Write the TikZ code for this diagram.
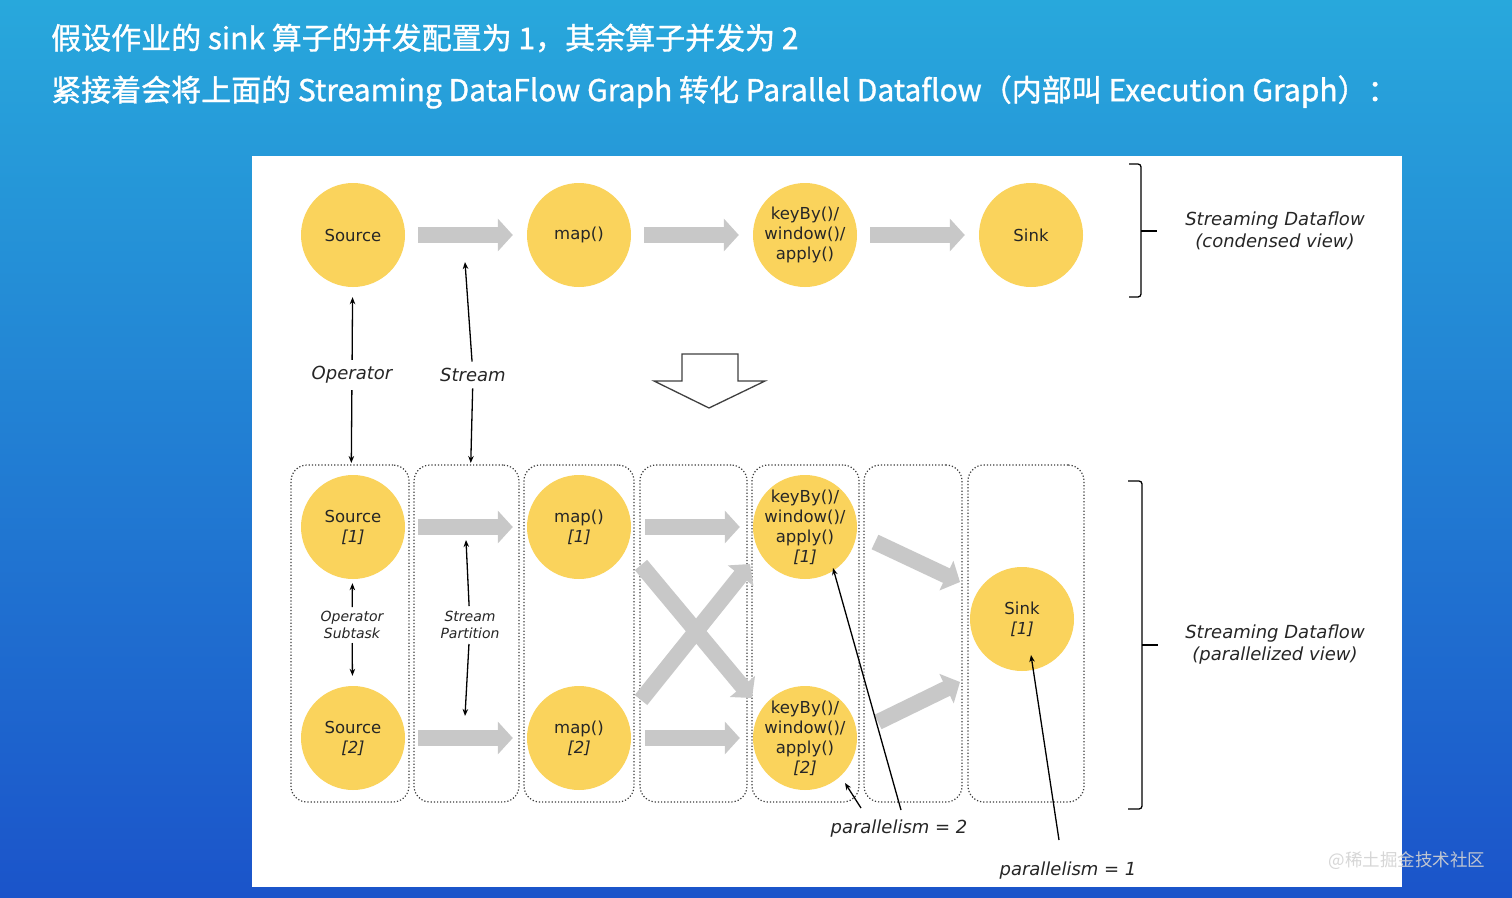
\documentclass[tikz,border=0pt]{standalone}
\usepackage{fontspec}
\setmainfont{DejaVu Sans}
\newfontfamily\cjk{Noto Sans CJK SC}[FakeBold=1.2]
\newfontfamily\cjkwm{Noto Sans CJK SC}
\usetikzlibrary{arrows.meta,calc}
\definecolor{nodeY}{RGB}{250,211,92}
\definecolor{flowG}{RGB}{200,200,200}
\definecolor{bgTop}{RGB}{40,168,220}
\definecolor{bgBot}{RGB}{27,84,202}
\definecolor{dotC}{RGB}{60,60,60}
\begin{document}
\begin{tikzpicture}[x=1pt,y=-1pt,
  op/.style={circle, fill=nodeY, minimum size=104pt, inner sep=0pt, align=center,
    font=\fontsize{16.5}{20}\selectfont, text=black!85},
  op4/.style={op, inner sep=-8pt},
  flow/.style={color=flowG, line width=16pt, -{Triangle[width=32pt,length=15pt]}},
  colbox/.style={draw=dotC, dotted, line width=1.2pt, rounded corners=16pt,
    minimum height=337pt, inner sep=0pt, outer sep=0pt},
  ptr/.style={draw=black, line width=1.3pt, -{Stealth[length=7pt,width=5.5pt]}},
  lab/.style={font=\fontsize{18}{22}\selectfont\itshape, align=center, text=black!85},
  slab/.style={font=\fontsize{14}{17}\selectfont\itshape, align=center, text=black!85, inner sep=1pt},
  ttl/.style={anchor=west, text=white, font=\cjk\fontsize{30}{34}\selectfont, inner sep=0pt},
]
\useasboundingbox (0,0) rectangle (1512,897);
\shade[top color=bgTop, bottom color=bgBot] (0,0) rectangle (1512,897);
\fill[white] (252,156) rectangle (1402,887);

% titles
\node[ttl] (t1) at (51,38) {假设作业的 sink 算子的并发配置为 1，其余算子并发为 2};
\node[ttl] (t2) at (51,92) {紧接着会将上面的 Streaming DataFlow Graph 转化 Parallel Dataflow（内部叫 Execution Graph）：};

% top row
\node[op] (s) at (353,235) {Source};
\node[op] (m) at (579,235) {map()};
\node[op] (k) at (805,235) {keyBy()/\\window()/\\apply()};
\node[op] (sk) at (1031,235) {Sink};
\draw[flow, shorten <=13pt, shorten >=14pt] (s) -- (m);
\draw[flow, shorten <=13pt, shorten >=14pt] (m) -- (k);
\draw[flow, shorten <=13pt, shorten >=14pt] (k) -- (sk);

% top brace
\draw[line width=1.3pt, rounded corners=3pt] (1129,164) -- (1141,164) -- (1141,297) -- (1129,297);
\draw[line width=1.6pt] (1141,231) -- (1157,231);
\node[lab] (cv) at (1275,231) {Streaming Dataflow\\(condensed view)};

% labels operator / stream
\node[lab] (opl) at (352,375) {Operator};
\node[lab] (stl) at (473,375) {Stream};
\coordinate (stp) at (465,262);

% hollow arrow
\draw[line width=1.3pt, draw=black!75, fill=white, line join=miter]
  (682,354) -- (738,354) -- (738,381) -- (765,381) -- (709,408) -- (654,381) -- (682,381) -- cycle;

% columns
\node[colbox, minimum width=118pt] (c1) at (350,633.5) {};
\node[colbox, minimum width=105pt] (c2) at (466.5,633.5) {};
\node[colbox, minimum width=110pt] (c3) at (579,633.5) {};
\node[colbox, minimum width=107pt] (c4) at (693.5,633.5) {};
\node[colbox, minimum width=107pt] (c5) at (805.5,633.5) {};
\node[colbox, minimum width=98pt] (c6) at (913,633.5) {};
\node[colbox, minimum width=116pt] (c7) at (1026,633.5) {};

\draw[ptr, shorten <=3pt, shorten >=10pt] (opl) -- (s);
\draw[ptr, shorten <=3pt, shorten >=2pt] (opl) -- (c1);
\draw[ptr, shorten <=3pt] (stl) -- (stp);
\draw[ptr, shorten <=3pt, shorten >=2pt] (stl) -- (c2);

% bottom nodes
\node[op] (s1) at (353,527) {Source\\\textit{[1]}};
\node[op] (s2) at (353,738) {Source\\\textit{[2]}};
\node[op] (m1) at (579,527) {map()\\\textit{[1]}};
\node[op] (m2) at (579,738) {map()\\\textit{[2]}};
\node[op4] (k1) at (805,527) {keyBy()/\\window()/\\apply()\\\textit{[1]}};
\node[op4] (k2) at (805,738) {keyBy()/\\window()/\\apply()\\\textit{[2]}};
\node[op] (sk1) at (1022,619) {Sink\\\textit{[1]}};

\draw[flow, shorten <=13pt, shorten >=14pt] (s1) -- (m1);
\draw[flow, shorten <=13pt, shorten >=14pt] (s2) -- (m2);
\draw[flow, shorten <=14pt, shorten >=13pt] (m1) -- (k1);
\draw[flow, shorten <=14pt, shorten >=13pt] (m2) -- (k2);

% cross
\coordinate (xa1) at (641,565);
\coordinate (xb1) at (752,698);
\coordinate (xa2) at (641,700);
\coordinate (xb2) at (750,564);
\draw[flow] (xa1) -- (xb1);
\draw[flow] (xa2) -- (xb2);

% to sink
\coordinate (da1) at (875,542);
\coordinate (db1) at (960,582);
\coordinate (da2) at (878,722);
\coordinate (db2) at (960,682);
\draw[flow] (da1) -- (db1);
\draw[flow] (da2) -- (db2);

% subtask / partition labels
\node[slab] (osl) at (352,625) {Operator\\Subtask};
\node[slab] (spl) at (470,625) {Stream\\Partition};
\draw[ptr, shorten <=3pt, shorten >=4pt] (osl) -- (s1);
\draw[ptr, shorten <=3pt, shorten >=10pt] (osl) -- (s2);
\coordinate (spu) at (466,540);
\coordinate (spd) at (465,716);
\draw[ptr, shorten <=4pt] (spl) -- (spu);
\draw[ptr, shorten <=4pt] (spl) -- (spd);

% parallelism
\node[lab] (p2) at (899,829) {parallelism = 2};
\node[lab] (p1) at (1068,871) {parallelism = 1};
\coordinate (p2a) at (901,810);
\coordinate (p2b) at (861,808);
\coordinate (p1a) at (1059,840);
\coordinate (k1t) at (833,568);
\coordinate (k2t) at (845,783);
\coordinate (skt) at (1031,655);
\draw[ptr] (p2a) -- (k1t);
\draw[ptr] (p2b) -- (k2t);
\draw[ptr] (p1a) -- (skt);

% bottom brace
\draw[line width=1.3pt, rounded corners=3pt] (1128,481) -- (1142,481) -- (1142,809) -- (1128,809);
\draw[line width=1.6pt] (1142,645) -- (1158,645);
\node[lab] (pv) at (1275,645) {Streaming Dataflow\\(parallelized view)};

% watermark
\node[font=\cjkwm\fontsize{17.5}{20}\selectfont, text=white!65!gray, opacity=0.9] (wm) at (1407,861) {@稀土掘金技术社区};
\end{tikzpicture}
\end{document}
